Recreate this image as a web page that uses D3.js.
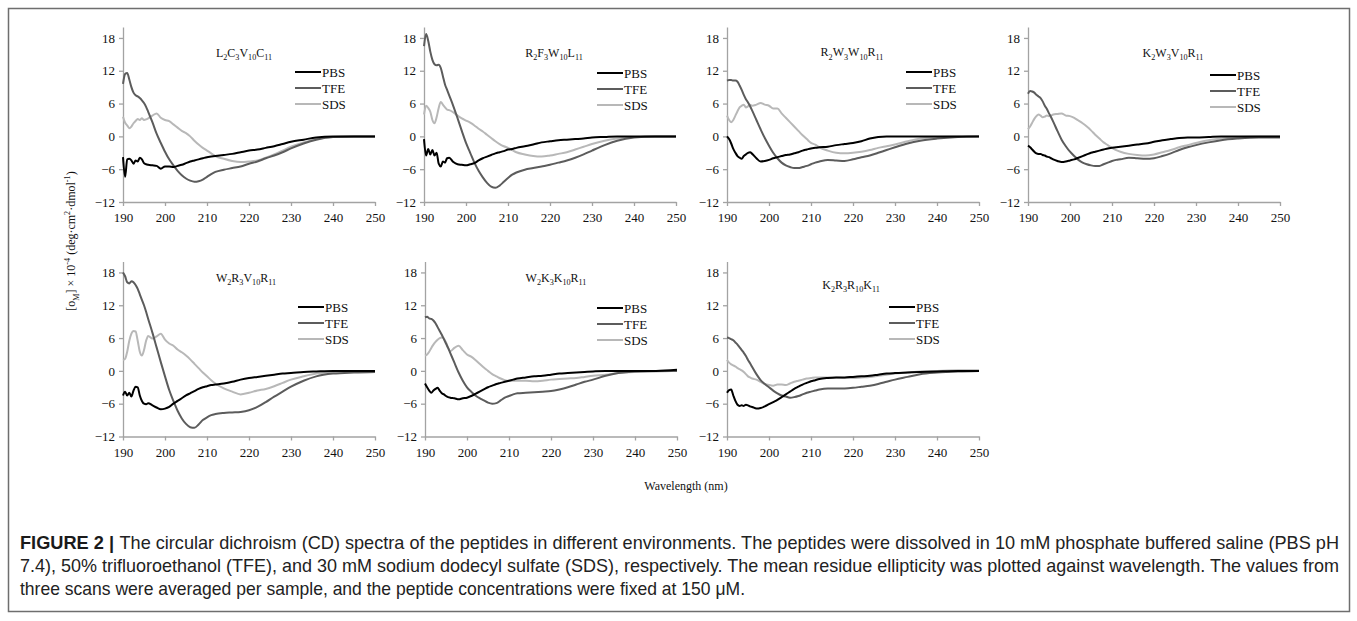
<!DOCTYPE html>
<html>
<head>
<meta charset="utf-8">
<script src="https://cdn.jsdelivr.net/npm/d3@7"></script>
<style>
  body { margin: 0; background: #fff; }
  svg text { font-family: "Liberation Serif", "Times New Roman", serif; }
</style>
</head>
<body>
<div id="chart"></div>
<script>
// wavelength grid (nm) shared by every trace
var wavelengths = [190,190.5,191,191.5,192,192.5,193,193.5,194,194.5,195,195.5,196,
  197,198,199,200,201,202,203,204,205,206,207,208,209,210,211,212,
  214,216,218,220,222,224,226,228,230,233,236,240,245,250];

var xTicks = [190,200,210,220,230,240,250];
var yTicks = [-12,-6,0,6,12,18];
var seriesNames = ["PBS","TFE","SDS"];

// panel titles, [letter, subscript] pairs
var titles = [
  [["L","2"],["C","3"],["V","10"],["C","11"]],
  [["R","2"],["F","3"],["W","10"],["L","11"]],
  [["R","2"],["W","3"],["W","10"],["R","11"]],
  [["K","2"],["W","3"],["V","10"],["R","11"]],
  [["W","2"],["R","3"],["V","10"],["R","11"]],
  [["W","2"],["K","3"],["K","10"],["R","11"]],
  [["K","2"],["R","3"],["R","10"],["K","11"]]
];

// mean residue ellipticity x 10^-4, one row per panel
var pbs = [
  [-3.8,-7.4,-4.2,-4.1,-4.4,-5.0,-4.4,-4.6,-3.9,-4.2,-4.9,-5.1,-5.2,-5.3,-5.4,-5.9,-5.5,-5.5,-5.6,-5.4,-5.2,-4.9,-4.6,-4.4,-4.2,-4.0,-3.8,-3.7,-3.6,-3.4,-3.2,-2.9,-2.6,-2.4,-2.1,-1.8,-1.4,-1.0,-0.6,-0.2,0,0,0],
  [-0.5,-3.5,-2.3,-3.3,-2.5,-3.5,-3.0,-5.0,-5.5,-4.6,-4.8,-4.0,-3.9,-4.7,-5.1,-5.2,-5.3,-5.1,-4.9,-4.4,-4.0,-3.7,-3.4,-3.1,-2.9,-2.7,-2.4,-2.3,-2.1,-1.8,-1.5,-1.1,-0.9,-0.7,-0.6,-0.5,-0.4,-0.2,-0.1,0,0,0,0],
  [0,-0.5,-1.3,-2.3,-3.0,-3.6,-3.9,-4.1,-3.6,-3.3,-3.0,-2.9,-3.2,-4.0,-4.6,-4.5,-4.3,-4.0,-3.8,-3.6,-3.4,-3.3,-3.1,-2.9,-2.6,-2.4,-2.2,-2.1,-2.0,-1.9,-1.6,-1.4,-1.2,-0.9,-0.4,-0.1,0,0,0,0,0,0,0],
  [-1.7,-2.0,-2.4,-2.8,-3.1,-3.2,-3.2,-3.4,-3.5,-3.7,-3.8,-4.0,-4.2,-4.5,-4.7,-4.6,-4.4,-4.2,-3.9,-3.6,-3.3,-3.0,-2.8,-2.6,-2.4,-2.2,-2.1,-2.0,-1.9,-1.7,-1.5,-1.3,-1.0,-0.7,-0.5,-0.3,-0.2,-0.2,-0.1,0,0,0,0],
  [-4.5,-3.8,-4.5,-4.0,-4.7,-3.6,-2.9,-3.0,-4.5,-5.5,-6.0,-6.1,-5.9,-6.3,-6.7,-7.0,-6.9,-6.6,-6.0,-5.5,-5.0,-4.5,-4.1,-3.7,-3.3,-3.0,-2.8,-2.6,-2.5,-2.3,-2.0,-1.6,-1.3,-1.1,-0.9,-0.7,-0.5,-0.4,-0.2,-0.1,0,0,0],
  [-2.3,-3.0,-3.6,-4.0,-3.6,-3.3,-3.1,-3.6,-4.1,-4.3,-4.6,-4.8,-4.9,-5.0,-5.2,-5.0,-4.9,-4.6,-4.2,-3.8,-3.4,-3.0,-2.7,-2.4,-2.2,-2.0,-1.8,-1.6,-1.4,-1.2,-1.0,-0.9,-0.7,-0.5,-0.4,-0.3,-0.2,-0.1,0,0,0,0,0.2],
  [-4.0,-3.5,-3.4,-4.5,-5.5,-6.2,-6.4,-6.3,-6.4,-6.2,-6.3,-6.5,-6.6,-6.9,-6.8,-6.5,-6.1,-5.7,-5.3,-4.8,-4.3,-3.8,-3.3,-2.9,-2.5,-2.2,-1.9,-1.7,-1.5,-1.3,-1.2,-1.2,-1.1,-1.0,-0.9,-0.7,-0.5,-0.4,-0.3,-0.2,-0.1,0,0]
];
var tfe = [
  [9.6,11.4,11.6,10.4,9.0,8.0,7.5,7.3,7.0,6.6,6.1,5.4,4.5,2.6,0.5,-1.2,-2.8,-4.2,-5.3,-6.3,-7.1,-7.7,-8.1,-8.3,-8.2,-7.9,-7.4,-6.9,-6.5,-6.1,-5.8,-5.5,-5.0,-4.6,-4.0,-3.5,-2.9,-2.2,-1.3,-0.6,-0.1,0,0],
  [16.5,18.7,17.5,15.5,14.0,13.2,13.0,13.1,12.5,11.0,9.5,8.5,7.5,5.5,3.3,1.0,-1.2,-3.0,-4.8,-6.3,-7.5,-8.5,-9.2,-9.4,-9.0,-8.3,-7.6,-7.0,-6.6,-6.1,-5.8,-5.5,-5.2,-4.8,-4.4,-3.9,-3.3,-2.6,-1.6,-0.8,-0.2,0,0],
  [10.2,10.3,10.3,10.2,10.2,10.0,9.3,8.5,7.6,6.8,6.2,5.5,4.7,3.0,1.3,-0.3,-1.7,-3.0,-4.0,-4.8,-5.3,-5.6,-5.8,-5.8,-5.6,-5.4,-5.1,-4.8,-4.6,-4.3,-4.4,-4.5,-4.2,-3.8,-3.5,-3.0,-2.5,-2.0,-1.3,-0.8,-0.4,-0.1,0],
  [7.8,8.3,8.2,8.0,7.6,7.3,7.0,6.4,5.6,5.0,4.2,3.5,2.7,1.0,-0.6,-1.8,-2.8,-3.6,-4.3,-4.8,-5.1,-5.3,-5.4,-5.4,-5.1,-4.8,-4.5,-4.3,-4.2,-3.9,-4.0,-4.1,-4.0,-3.6,-3.1,-2.5,-2.0,-1.6,-1.1,-0.7,-0.4,-0.2,-0.2],
  [18.0,17.3,16.2,16.0,16.4,16.2,15.7,15.0,14.0,13.0,12.0,10.8,9.5,7.0,4.3,1.6,-1.0,-3.5,-5.5,-7.3,-8.7,-9.7,-10.3,-10.4,-9.8,-9.0,-8.5,-8.1,-7.9,-7.7,-7.6,-7.5,-7.2,-6.6,-5.7,-4.7,-3.8,-2.9,-1.8,-1.0,-0.5,-0.3,-0.2],
  [9.8,9.9,9.6,9.5,9.2,8.7,8.0,7.3,6.6,5.8,5.0,4.2,3.3,1.5,-0.3,-1.8,-3.0,-3.8,-4.5,-5.0,-5.4,-5.8,-6.0,-5.9,-5.4,-4.9,-4.6,-4.3,-4.1,-4.0,-3.9,-3.8,-3.7,-3.4,-3.0,-2.5,-2.0,-1.6,-0.9,-0.4,-0.1,0,0],
  [6.1,6.0,5.8,5.6,5.2,4.8,4.3,3.8,3.3,2.7,2.0,1.4,0.7,-0.6,-1.7,-2.4,-3.0,-3.6,-4.1,-4.5,-4.7,-4.9,-4.8,-4.6,-4.3,-4.0,-3.8,-3.6,-3.4,-3.2,-3.2,-3.2,-3.1,-2.9,-2.7,-2.4,-2.0,-1.6,-1.1,-0.6,-0.3,-0.1,0]
];
var sds = [
  [3.6,2.5,2.0,1.5,1.8,2.4,2.8,3.2,3.0,3.3,3.0,3.1,3.3,3.8,4.2,3.4,3.0,2.8,2.2,1.6,1.0,0.6,0,-0.8,-1.5,-2.1,-2.6,-3.1,-3.6,-4.1,-4.5,-4.7,-4.6,-4.4,-3.9,-3.3,-2.6,-1.9,-1.1,-0.5,-0.1,0,0],
  [4.0,5.6,5.2,4.5,3.0,2.4,3.5,5.2,6.3,5.8,5.3,4.9,4.8,4.4,3.8,3.3,2.9,2.5,2.0,1.4,0.9,0.3,-0.3,-0.9,-1.4,-1.8,-2.1,-2.5,-2.9,-3.3,-3.6,-3.7,-3.5,-3.2,-2.9,-2.4,-1.9,-1.4,-0.8,-0.4,-0.1,0,0],
  [3.8,3.0,2.6,3.0,3.8,4.6,5.3,5.6,5.8,5.3,5.5,5.8,5.6,5.8,6.1,5.8,5.6,5.1,5.1,4.2,3.4,2.6,1.8,1.0,0.2,-0.5,-1.2,-1.5,-2.0,-2.6,-3.0,-3.1,-3.0,-2.8,-2.5,-2.1,-1.8,-1.5,-0.9,-0.4,-0.1,0,0],
  [1.3,1.8,2.5,3.2,3.7,4.0,3.8,3.5,3.6,3.8,3.7,3.8,4.0,4.1,4.2,3.8,3.7,3.4,2.9,2.4,1.8,1.1,0.3,-0.4,-1.1,-1.6,-2.1,-2.5,-2.8,-3.2,-3.4,-3.5,-3.3,-2.9,-2.5,-2.0,-1.6,-1.2,-0.7,-0.4,-0.1,0,0],
  [2.0,2.2,3.5,5.5,6.8,7.3,7.2,5.5,3.5,2.8,3.8,5.5,6.4,5.9,6.3,6.8,5.7,5.0,4.6,3.9,3.4,2.8,2.1,1.3,0.5,-0.3,-1.0,-1.7,-2.3,-3.2,-3.8,-4.3,-4.0,-3.6,-3.3,-2.8,-2.2,-1.6,-1.0,-0.5,-0.2,-0.1,0],
  [2.8,3.0,3.5,4.2,4.8,5.3,5.7,6.0,6.1,5.9,5.2,4.2,3.6,4.2,4.6,3.8,3.0,2.6,2.0,1.3,0.6,0,-0.6,-1.0,-1.4,-1.7,-1.8,-1.8,-1.8,-1.8,-1.9,-1.8,-1.6,-1.5,-1.4,-1.3,-1.1,-0.9,-0.7,-0.4,-0.2,-0.1,0],
  [2.0,1.5,1.2,1.0,0.8,0.5,0.3,0.1,-0.2,-0.6,-1.0,-1.2,-1.4,-1.6,-2.0,-2.4,-2.6,-2.7,-2.5,-2.5,-2.6,-2.3,-2.0,-1.8,-1.6,-1.4,-1.3,-1.2,-1.2,-1.2,-1.2,-1.3,-1.3,-1.2,-1.1,-0.9,-0.7,-0.5,-0.3,-0.1,0,0.1,0.1]
];

var captionLines = [
  "The circular dichroism (CD) spectra of the peptides in different environments. The peptides were dissolved in 10 mM phosphate buffered saline (PBS pH",
  "7.4), 50% trifluoroethanol (TFE), and 30 mM sodium dodecyl sulfate (SDS), respectively. The mean residue ellipticity was plotted against wavelength. The values from",
  "three scans were averaged per sample, and the peptide concentrations were fixed at 150 \u03bcM."
];

// layout
var W = 1357, H = 621;
var plotW = 252, plotH = 175;
var panelX = [123, 424, 727, 1028, 123, 425, 727];
var panelTop = [27, 27, 27, 27, 261.5, 261.5, 261.5];
var titlePos = [[244,53],[554,53],[852,52.5],[1173,53],[246,278],[556,278],[851,285]];
var legendPos = [[322,72],[624,73],[933,72],[1237,75],[325,307],[624,308],[916,307]];
var colors = {PBS: "#000000", TFE: "#5c5c5c", SDS: "#b8b8b8"};

var svg = d3.select("#chart").append("svg")
    .attr("width", W)
    .attr("height", H);

svg.append("rect")
    .attr("x", 8.5).attr("y", 8.5)
    .attr("width", 1341).attr("height", 603)
    .attr("fill", "none")
    .attr("stroke", "#6e6e6e")
    .attr("stroke-width", 1.5);

// text with subscript/superscript parts: [string, "sub"|"sup"|null]
function richText(sel, parts, fs) {
  var shift = 0;
  parts.forEach(function(p) {
    var t = sel.append("tspan").text(p[0]);
    var target = p[1] == "sub" ? fs * 0.3 : (p[1] == "sup" ? -fs * 0.38 : 0);
    if (target != shift) t.attr("dy", target - shift);
    shift = target;
    if (p[1]) t.attr("font-size", fs * 0.68);
  });
}

var x = d3.scaleLinear().domain([190, 250]);
var y = d3.scaleLinear().domain([-12, 20]);

var seriesData = {PBS: pbs, TFE: tfe, SDS: sds};

titles.forEach(function(title, i) {
  x.range([panelX[i], panelX[i] + plotW]);
  y.range([panelTop[i] + plotH, panelTop[i]]);

  var g = svg.append("g");

  var ya = g.append("g")
      .attr("transform", "translate(" + panelX[i] + ",0)")
      .call(d3.axisLeft(y).tickValues(yTicks).tickSize(4).tickSizeOuter(0).tickPadding(4));
  var xa = g.append("g")
      .attr("transform", "translate(0," + y(-12) + ")")
      .call(d3.axisBottom(x).tickValues(xTicks).tickSize(4).tickSizeOuter(0).tickPadding(7));

  [ya, xa].forEach(function(a) {
    a.select(".domain").attr("stroke", "#a3a3a3").attr("stroke-width", 1.3);
    a.selectAll(".tick line").attr("stroke", "#a3a3a3").attr("stroke-width", 1.3);
    a.selectAll(".tick text")
      .attr("fill", "#111")
      .style("font-family", "'Liberation Serif', serif")
      .style("font-size", "13px");
  });

  // traces, SDS under TFE under PBS
  ["SDS", "TFE", "PBS"].forEach(function(name) {
    var vals = seriesData[name][i];
    var line = d3.line()
        .x(function(d, k) { return x(wavelengths[k]); })
        .y(function(d) { return y(d); })
        .curve(d3.curveMonotoneX);
    g.append("path")
        .datum(vals)
        .attr("fill", "none")
        .attr("stroke", colors[name])
        .attr("stroke-width", 2)
        .attr("stroke-linejoin", "round")
        .attr("d", line);
  });

  // title
  var tt = g.append("text")
      .attr("x", titlePos[i][0])
      .attr("y", titlePos[i][1] + 3.5)
      .attr("text-anchor", "middle")
      .attr("font-size", 12)
      .attr("fill", "#111");
  var parts = [];
  title.forEach(function(p) { parts.push([p[0], null]); parts.push([p[1], "sub"]); });
  richText(tt, parts, 12);

  // legend
  seriesNames.forEach(function(name, k) {
    var ly = legendPos[i][1] + k * 16;
    g.append("line")
        .attr("x1", legendPos[i][0] - 27).attr("x2", legendPos[i][0] - 1)
        .attr("y1", ly).attr("y2", ly)
        .attr("stroke", colors[name])
        .attr("stroke-width", 2);
    g.append("text")
        .attr("x", legendPos[i][0])
        .attr("y", ly + 4.5)
        .attr("font-size", 13)
        .attr("fill", "#111")
        .text(name);
  });
});

// y axis label
var yl = svg.append("text")
    .attr("transform", "translate(75,241) rotate(-90)")
    .attr("text-anchor", "middle")
    .attr("font-size", 12)
    .attr("fill", "#111");
richText(yl, [["[o", null], ["M", "sub"], ["] \u00d7 10", null], ["-4", "sup"],
  [" (deg\u00b7cm", null], ["2", "sup"], ["\u00b7dmol", null], ["-1", "sup"], [")", null]], 12);

// x axis label
svg.append("text")
    .attr("x", 686).attr("y", 490)
    .attr("text-anchor", "middle")
    .attr("font-size", 12)
    .attr("fill", "#111")
    .text("Wavelength (nm)");

// caption: size the font so the first line fills the width, then fit each line
var capFont = "'Liberation Sans', Arial, sans-serif";
var probe = svg.append("text")
    .style("font-family", capFont)
    .style("font-size", "16px")
    .text(captionLines[0]);
var boldProbe = svg.append("text")
    .style("font-family", capFont)
    .style("font-size", "16px")
    .style("font-weight", "bold")
    .text("FIGURE 2 | ");
var natural = probe.node().getComputedTextLength() + boldProbe.node().getComputedTextLength();
probe.remove(); boldProbe.remove();
var capSize = 16 * (1339 - 20) / natural;

var bold = svg.append("text")
    .attr("x", 20).attr("y", 549)
    .style("font-family", capFont)
    .style("font-size", capSize + "px")
    .style("font-weight", "bold")
    .attr("fill", "#1a1a1a")
    .text("FIGURE 2 |");
var bw = bold.node().getComputedTextLength();
var capEnds = [1339, 1339, 745];
captionLines.forEach(function(s, k) {
  var sx = k == 0 ? 20 + bw + capSize * 0.3 : 20;
  svg.append("text")
      .attr("x", sx).attr("y", 549 + k * 23)
      .style("font-family", capFont)
      .style("font-size", capSize + "px")
      .attr("fill", "#222")
      .attr("textLength", capEnds[k] - sx)
      .attr("lengthAdjust", "spacingAndGlyphs")
      .text(s);
});
</script>
</body>
</html>
